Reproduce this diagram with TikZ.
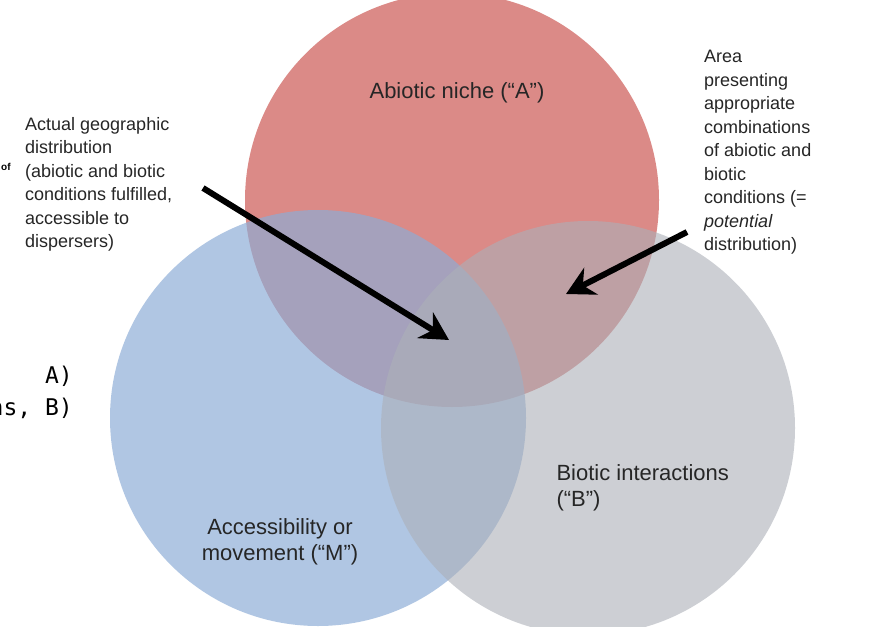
\documentclass[tikz,border=0pt]{standalone}
\usepackage{fontspec}
\setmainfont{Liberation Sans}
\newfontfamily\monof{DejaVu Sans Mono}
\usetikzlibrary{arrows.meta}
\definecolor{cred}{RGB}{208,100,95}
\definecolor{cblue}{RGB}{140,172,214}
\definecolor{cgray}{RGB}{172,176,184}
\begin{document}
\begin{tikzpicture}[x=1pt,y=-1pt,
  lbl/.style={font=\fontsize{22}{26}\selectfont,text=black!85,align=left},
  small/.style={font=\fontsize{18}{23.5}\selectfont,text=black!85,align=left,anchor=north west,inner sep=0},
  arr/.style={line width=6pt,-{Stealth[length=28pt,width=30pt]}}]
\useasboundingbox (0,0) rectangle (890,626);
\fill[white] (0,0) rectangle (890,626);
\fill[cred,fill opacity=0.75] (452,200) circle (207);
\fill[cblue,fill opacity=0.68] (318,418) circle (208);
\fill[cgray,fill opacity=0.6] (588,428) circle (207);
\node[lbl] (A) at (457,93) {Abiotic niche (“A”)};
\node[lbl,align=center] (M) at (280,542) {Accessibility or\\movement (“M”)};
\node[lbl,anchor=west] (B) at (553,488) {Biotic interactions\\(“B”)};
\node[small] (act) at (25,117) {Actual geographic\\distribution\\(abiotic and biotic\\conditions fulfilled,\\accessible to\\dispersers)};
\node[small] (pot) at (704,50) {Area\\presenting\\appropriate\\combinations\\of abiotic and\\biotic\\conditions (=\\\textit{potential}\\distribution)};
\node[font=\bfseries\fontsize{10}{10}\selectfont,anchor=west,inner sep=0] (of) at (1,167) {of};
\node[font=\monof\fontsize{23}{32}\selectfont,anchor=north east,align=right,inner sep=0] (frag) at (73,366) {A)\\ns, B)};
\coordinate (s1) at (203,188); \coordinate (e1) at (449,340);
\coordinate (s2) at (687,232); \coordinate (e2) at (566,294);
\draw[arr] (s1) -- (e1);
\draw[arr] (s2) -- (e2);
\end{tikzpicture}
\end{document}
